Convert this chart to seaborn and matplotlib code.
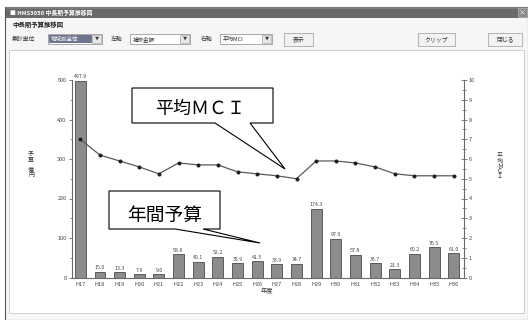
import matplotlib
matplotlib.use("Agg")
import matplotlib.pyplot as plt
import matplotlib.patches as mpatches
import matplotlib.transforms as mtransforms
from matplotlib.ticker import MultipleLocator
import seaborn as sns

# ---- data ----
years = ["H17", "H18", "H19", "H20", "H21", "H22", "H23", "H24", "H25", "H26",
         "H27", "H28", "H29", "H30", "H31", "H32", "H33", "H34", "H35", "H36"]
budget = [497.9, 15.0, 13.3, 7.9, 9.0, 58.8, 40.1, 52.2, 35.9, 41.5,
          33.9, 34.7, 174.3, 97.9, 57.8, 36.7, 21.3, 60.2, 76.5, 61.0]
mci = [7.0, 6.2, 5.9, 5.6, 5.25, 5.8, 5.7, 5.7, 5.35, 5.25,
       5.15, 5.0, 5.9, 5.9, 5.8, 5.6, 5.25, 5.15, 5.15, 5.15]
budget_ticks = [0, 100, 200, 300, 400, 500]
mci_ticks = [0, 1, 2, 3, 4, 5, 6, 7, 8, 9, 10]

sns.set_theme(style="white")
plt.rcParams["font.family"] = ["Noto Sans CJK JP", "DejaVu Sans"]

W, H = 528, 320
fig = plt.figure(figsize=(W / 100, H / 100), dpi=100)
fig.patch.set_facecolor("white")

# pixel coordinates, origin at top-left
px = mtransforms.Affine2D().scale(1 / W, -1 / H).translate(0, 1) + fig.transFigure


def box(x0, y0, x1, y1, fc, ec="none", lw=0.6, z=0):
    fig.add_artist(mpatches.Rectangle((x0, y0), x1 - x0, y1 - y0, transform=px,
                                      facecolor=fc, edgecolor=ec, linewidth=lw, zorder=z))


def label(x, y, s, size=4.5, color="#333333", ha="left", va="center", weight="normal", z=5, **kw):
    fig.text(x, y, s, transform=px, fontsize=size, color=color, ha=ha, va=va,
             fontweight=weight, zorder=z, **kw)


# ---- window frame ----
box(5, 7, 528, 320, "#f6f6f6", ec="#555555", lw=0.8)
box(6, 7, 528, 18, "#6a6a6a")
box(6, 7, 528, 9, "#7c7c7c")
box(518, 8, 527, 17, "#8a8a8a", ec="#bbbbbb", lw=0.5)
label(522.5, 12.5, "×", size=5, color="white", ha="center")
label(10, 12.5, "■ HMS3050 中長期予算推移図", size=4.2, color="white", weight="bold")
label(12, 25, "中長期予算推移図", size=4.6, color="#222222", weight="bold")

# control row
label(12, 39, "集計単位", size=4.2)
box(48, 34, 102, 44, "white", ec="#888888", lw=0.5)
box(49, 35, 92, 43, "#6d7590")
label(51, 39, "地域別全体", size=4, color="white")
box(92, 35, 101, 43, "#e6e6e6", ec="#999999", lw=0.4)
label(96.5, 39, "▼", size=3, ha="center")

label(111, 39, "左軸", size=4.2)
box(130, 34, 190, 44, "white", ec="#888888", lw=0.5)
label(133, 39, "補修金額", size=4)
box(180, 35, 189, 43, "#e6e6e6", ec="#999999", lw=0.4)
label(184.5, 39, "▼", size=3, ha="center")

label(201, 39, "右軸", size=4.2)
box(220, 34, 272, 44, "white", ec="#888888", lw=0.5)
label(223, 39, "平均MCI", size=4)
box(262, 35, 271, 43, "#e6e6e6", ec="#999999", lw=0.4)
label(266.5, 39, "▼", size=3, ha="center")

for (x0, x1, s) in [(284, 313, "表示"), (418, 455, "クリップ"), (488, 522, "閉じる")]:
    box(x0, 33, x1, 46, "#f2f2f2", ec="#9a9a9a", lw=0.5)
    label((x0 + x1) / 2, 39.5, s, size=4.2, ha="center")

# chart panel
box(9, 50, 524, 313, "white", ec="#c8c8c8", lw=0.6)

# ---- chart ----
ax = fig.add_axes([72 / W, 1 - 277.5 / H, (464 - 72) / W, (277.5 - 80) / H])
ax.patch.set_alpha(0)
sns.barplot(x=years, y=budget, color="#8c8c8c", edgecolor="#4a4a4a", linewidth=0.6,
            width=0.55, saturation=1, ax=ax)
ax.bar_label(ax.containers[0], fmt="%.1f", fontsize=3.8, color="#444444", padding=1)

ax2 = ax.twinx()
sns.pointplot(x=years, y=mci, color="#5a5a5a", markers="o", markersize=2.2,
              linewidth=0.9, ax=ax2)
for ln in ax2.lines:
    ln.set_markerfacecolor("#1e1e1e")
    ln.set_markeredgecolor("#1e1e1e")

ax.set_ylim(0, 500)
ax2.set_ylim(0, 10)
ax.set_xlim(-0.42, 19.52)
ax.set_yticks(budget_ticks)
ax.yaxis.set_minor_locator(MultipleLocator(50))
ax2.set_yticks(mci_ticks)
ax2.yaxis.set_minor_locator(MultipleLocator(0.5))
ax.set_xticks(range(len(years)))
ax.set_xticklabels(years)
ax.set_xlabel("")
ax.set_ylabel("")
ax2.set_xlabel("")
ax2.set_ylabel("")
ax.grid(False)
ax2.grid(False)

for a in (ax, ax2):
    for sp in a.spines.values():
        sp.set_visible(False)
ax.spines["left"].set_visible(True)
ax.spines["bottom"].set_visible(True)
ax2.spines["right"].set_visible(True)
for sp in (ax.spines["left"], ax.spines["bottom"], ax2.spines["right"]):
    sp.set_color("#6a6a6a")
    sp.set_linewidth(0.8)

ax.tick_params(axis="y", which="major", direction="out", length=2.5, width=0.6,
               colors="#6a6a6a", labelsize=4, labelcolor="#444444", pad=1.5, left=True)
ax.tick_params(axis="y", which="minor", direction="out", length=1.5, width=0.5,
               colors="#6a6a6a", left=True)
ax.tick_params(axis="x", length=0, labelsize=4, labelcolor="#444444", pad=3)
ax2.tick_params(axis="y", which="major", direction="inout", length=4, width=0.6,
                colors="#6a6a6a", labelsize=4, labelcolor="#444444", pad=1.5, right=True)
ax2.tick_params(axis="y", which="minor", direction="inout", length=2.5, width=0.5,
                colors="#6a6a6a", right=True)

# axis titles
label(31, 165, "予\n算\n\n億\n円", size=4.3, ha="center", linespacing=1.0)
label(500, 166, "平\n均\nＭ\nＣ\nＩ", size=4.3, ha="center", linespacing=1.0)
label(267, 291, "年度", size=4.5, ha="center")


# ---- callouts ----
def callout(x0, y0, x1, y1, wa, wb, tip, text, tx, ty, size):
    pts = [(x0, y0), (x1, y0), (x1, y1), (wb, y1), tip, (wa, y1), (x0, y1)]
    fig.add_artist(mpatches.Polygon(pts, closed=True, transform=px, facecolor="white",
                                    edgecolor="black", linewidth=0.8, zorder=20))
    label(tx, ty, text, size=size, color="black", ha="center", z=21)


callout(132, 88, 273, 123, 215, 250, (285, 169), "平均ＭＣＩ", 200, 109, 13)
callout(109, 191, 220, 229, 175, 203, (260, 243), "年間予算", 165, 215, 13.5)

fig.savefig("out.png", dpi=100, facecolor=fig.get_facecolor())
